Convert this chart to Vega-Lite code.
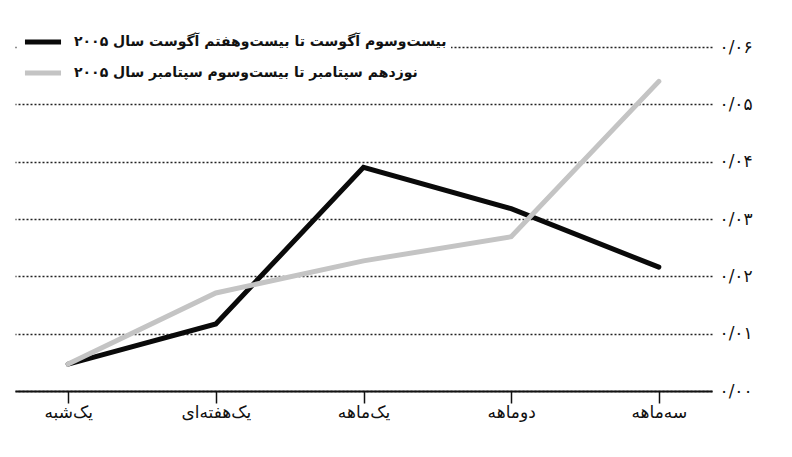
{
  "$schema": "https://vega.github.io/schema/vega-lite/v6.json",
  "width": 697,
  "height": 344,
  "autosize": {"type": "none"},
  "padding": {"left": 15, "top": 47, "right": 80, "bottom": 66},
  "background": "white",
  "config": {
    "font": "DejaVu Sans",
    "view": {"stroke": null}
  },
  "data": {
    "values": [
      {"period": "یک‌شبه", "series": "بیست‌وسوم آگوست تا بیست‌وهفتم آگوست سال ۲۰۰۵", "value": 0.0047},
      {"period": "یک‌هفته‌ای", "series": "بیست‌وسوم آگوست تا بیست‌وهفتم آگوست سال ۲۰۰۵", "value": 0.0117},
      {"period": "یک‌ماهه", "series": "بیست‌وسوم آگوست تا بیست‌وهفتم آگوست سال ۲۰۰۵", "value": 0.039},
      {"period": "دوماهه", "series": "بیست‌وسوم آگوست تا بیست‌وهفتم آگوست سال ۲۰۰۵", "value": 0.0318},
      {"period": "سه‌ماهه", "series": "بیست‌وسوم آگوست تا بیست‌وهفتم آگوست سال ۲۰۰۵", "value": 0.0216},
      {"period": "یک‌شبه", "series": "نوزدهم سپتامبر تا بیست‌وسوم سپتامبر سال ۲۰۰۵", "value": 0.0047},
      {"period": "یک‌هفته‌ای", "series": "نوزدهم سپتامبر تا بیست‌وسوم سپتامبر سال ۲۰۰۵", "value": 0.0171},
      {"period": "یک‌ماهه", "series": "نوزدهم سپتامبر تا بیست‌وسوم سپتامبر سال ۲۰۰۵", "value": 0.0227},
      {"period": "دوماهه", "series": "نوزدهم سپتامبر تا بیست‌وسوم سپتامبر سال ۲۰۰۵", "value": 0.0269},
      {"period": "سه‌ماهه", "series": "نوزدهم سپتامبر تا بیست‌وسوم سپتامبر سال ۲۰۰۵", "value": 0.054}
    ]
  },
  "mark": {"type": "line", "strokeWidth": 5, "strokeCap": "round", "strokeJoin": "miter"},
  "encoding": {
    "x": {
      "field": "period",
      "type": "ordinal",
      "sort": null,
      "scale": {"type": "point", "padding": 0.36},
      "axis": {
        "title": null,
        "labelAngle": 0,
        "labelFontSize": 17,
        "labelColor": "#111",
        "labelPadding": 1,
        "tickSize": 12,
        "tickColor": "#111",
        "tickWidth": 1.5,
        "domainColor": "#111",
        "domainWidth": 2,
        "grid": false
      }
    },
    "y": {
      "field": "value",
      "type": "quantitative",
      "scale": {"domain": [0, 0.06], "nice": false},
      "axis": {
        "orient": "right",
        "title": null,
        "values": [0, 0.01, 0.02, 0.03, 0.04, 0.05, 0.06],
        "labelExpr": "['۰/۰۰','۰/۰۱','۰/۰۲','۰/۰۳','۰/۰۴','۰/۰۵','۰/۰۶'][round(datum.value*100)]",
        "labelFontSize": 17,
        "labelColor": "#111",
        "labelPadding": 7,
        "ticks": false,
        "domain": false,
        "grid": true,
        "gridColor": "#222",
        "gridWidth": 1.7,
        "gridDash": [2, 2]
      }
    },
    "color": {
      "field": "series",
      "type": "nominal",
      "scale": {
        "domain": ["بیست‌وسوم آگوست تا بیست‌وهفتم آگوست سال ۲۰۰۵", "نوزدهم سپتامبر تا بیست‌وسوم سپتامبر سال ۲۰۰۵"],
        "range": ["#0a0a0a", "#c4c4c4"]
      },
      "legend": {
        "title": null,
        "orient": "none",
        "legendX": 3,
        "legendY": -30,
        "padding": 4,
        "fillColor": "white",
        "symbolType": "stroke",
        "symbolSize": 1300,
        "symbolStrokeWidth": 5,
        "labelFontSize": 14,
        "labelFontWeight": "bold",
        "labelColor": "#111",
        "labelLimit": 600,
        "rowPadding": -13,
        "labelOffset": 10
      }
    }
  }
}
